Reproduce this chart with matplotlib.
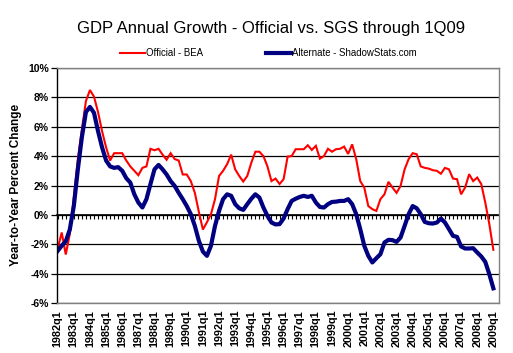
import matplotlib
matplotlib.use("Agg")
import matplotlib.pyplot as plt
import numpy as np

plt.rcParams['font.family'] = ['Liberation Sans', 'DejaVu Sans']

title = "GDP Annual Growth - Official vs. SGS through 1Q09"
series_names = ["Official - BEA", "Alternate - ShadowStats.com"]
quarters = [f"{y}q{q}" for y in range(1982, 2010) for q in range(1, 5)][:109]

official = [
    -2.3, -1.2, -2.7, -1.3, 1.2, 3.8, 5.8, 7.75, 8.5, 8.05,
    7.0, 5.7, 4.6, 3.7, 4.2, 4.2, 4.2, 3.7, 3.3, 3.0,
    2.7, 3.2, 3.3, 4.5, 4.4, 4.5, 4.1, 3.75, 4.2, 3.8,
    3.7, 2.75, 2.75, 2.3, 1.5, 0.2, -1.0, -0.5, 0.05, 1.07,
    2.65, 3.0, 3.45, 4.1, 3.1, 2.65, 2.27, 2.65, 3.55, 4.3,
    4.3, 4.0, 3.3, 2.3, 2.47, 2.1, 2.43, 3.97, 4.0, 4.47,
    4.47, 4.47, 4.74, 4.42, 4.7, 3.83, 4.0, 4.5, 4.3, 4.47,
    4.5, 4.65, 4.15, 4.8, 3.8, 2.3, 1.86, 0.6, 0.39, 0.27,
    1.07, 1.4, 2.25, 1.86, 1.5, 1.97, 3.1, 3.8, 4.2, 4.13,
    3.3, 3.2, 3.15, 3.04, 3.0, 2.8, 3.2, 3.1, 2.47, 2.43,
    1.4, 1.86, 2.77, 2.3, 2.54, 2.1, 0.84, -0.63, -2.38,
]
alternate = [
    -2.45, -2.1, -1.8, -1.0, 0.6, 3.1, 5.3, 7.0, 7.35, 6.95,
    5.7, 4.6, 3.7, 3.3, 3.2, 3.25, 3.0, 2.5, 2.2, 1.4,
    0.84, 0.5, 1.07, 2.1, 3.1, 3.4, 3.1, 2.75, 2.3, 1.97,
    1.5, 1.07, 0.6, 0.05, -0.75, -1.77, -2.5, -2.79, -2.1, -0.75,
    0.27, 1.07, 1.4, 1.3, 0.73, 0.45, 0.34, 0.73, 1.1, 1.4,
    1.18, 0.5, -0.07, -0.52, -0.65, -0.63, -0.25, 0.39, 0.95, 1.1,
    1.22, 1.3, 1.22, 1.3, 0.84, 0.54, 0.5, 0.73, 0.88, 0.9,
    0.95, 0.95, 1.07, 0.73, 0.05, -0.97, -2.1, -2.79, -3.24, -2.95,
    -2.68, -1.88, -1.7, -1.72, -1.84, -1.54, -0.75, 0.05, 0.6, 0.45,
    0.05, -0.48, -0.57, -0.59, -0.52, -0.25, -0.52, -0.97, -1.43, -1.5,
    -2.15, -2.29, -2.29, -2.27, -2.56, -2.83, -3.2, -4.04, -5.0,
]
y_ticks = [-6, -4, -2, 0, 2, 4, 6, 8, 10]

W, H = 513, 353
fig = plt.figure(figsize=(W / 100, H / 100), dpi=100)
ax = fig.add_axes([57 / W, 1 - 303 / H, 442 / W, 235 / H])

x = np.arange(len(quarters))
l1, = ax.plot(x, official, color="#FF0000", lw=1.5, solid_joinstyle="miter")
l2, = ax.plot(x, alternate, color="#000080", lw=3.0)

ax.set_xlim(-0.17, 109.4)
ax.set_ylim(-6, 10)
ax.set_yticks(y_ticks)
ax.set_yticklabels([f"{v}%" for v in y_ticks], fontsize=7.5, fontweight="bold")
ax.yaxis.grid(True, color="black", lw=0.9)
ax.set_axisbelow(True)
ax.tick_params(axis="y", direction="out", length=4, width=0.9, pad=2)

ax.set_xticks(x[::4])
ax.set_xticklabels(quarters[::4], rotation=90, fontsize=7.8, fontweight="bold")
ax.tick_params(axis="x", length=0, pad=5)

for s in ["top", "right", "bottom"]:
    ax.spines[s].set_color("#808080")
    ax.spines[s].set_linewidth(1.0)
ax.spines["left"].set_color("black")
ax.spines["left"].set_linewidth(1.0)

# zero-line category axis with small ticks
ax2 = ax.twiny()
ax2.set_xlim(ax.get_xlim())
ax2.xaxis.set_ticks_position("bottom")
ax2.spines["bottom"].set_position(("data", 0))
ax2.spines["bottom"].set_color("black")
ax2.spines["bottom"].set_linewidth(1.2)
for s in ["top", "right", "left"]:
    ax2.spines[s].set_visible(False)
ax2.set_xticks(x)
ax2.set_xticklabels([])
ax2.tick_params(axis="x", direction="out", length=3, width=0.8, color="black")
ax2.set_zorder(0)
ax.set_zorder(1)
ax.patch.set_visible(False)

fig.text(271 / W, 1 - 28 / H, title, ha="center", va="center", fontsize=12)
fig.text(16 / W, 1 - 185 / H, "Year-to-Year Percent Change", rotation=90,
         ha="center", va="center", fontsize=8.5, fontweight="bold")

fig.legend([l1, l2], series_names, loc="center", bbox_to_anchor=(268 / W, 1 - 53 / H),
           ncol=2, frameon=False, fontsize=6.9, handlelength=2.6,
           handletextpad=0.1, columnspacing=6.6)

fig.savefig("out.png", dpi=100)
